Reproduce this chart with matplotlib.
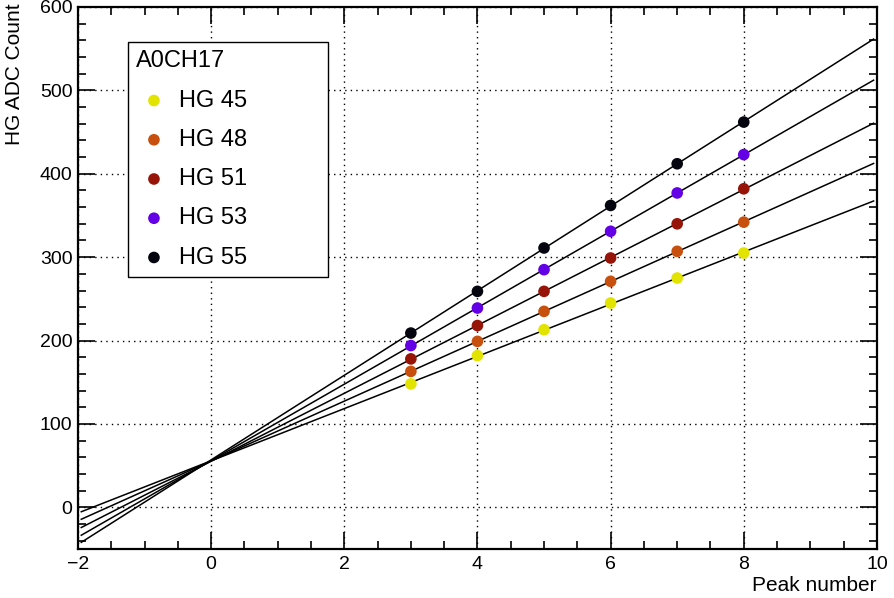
import numpy as np
import matplotlib
matplotlib.use("Agg")
import matplotlib.pyplot as plt
from matplotlib.ticker import MultipleLocator

plt.rcParams['font.family'] = ['Liberation Sans', 'DejaVu Sans']

peaks = [3, 4, 5, 6, 7, 8]
labels = ["HG 45", "HG 48", "HG 51", "HG 53", "HG 55"]
hg45 = [148, 182, 213, 245, 275, 305]
hg48 = [163, 199, 235, 271, 307, 342]
hg51 = [178, 218, 259, 299, 340, 382]
hg53 = [194, 239, 285, 331, 377, 423]
hg55 = [209, 259, 311, 362, 412, 462]
series = [hg45, hg48, hg51, hg53, hg55]
colors = ["#e3e300", "#c8500f", "#961408", "#6400e6", "#05050f"]
title = "A0CH17"

fig = plt.figure(figsize=(8.94, 5.98), dpi=100)
ax = fig.add_axes([0.0872, 0.0819, 0.8937, 0.9064])
ax.set_xlim(-2, 10)
ax.set_ylim(-50, 600)

xfit = np.linspace(-1.95, 9.95, 200)
handles = []
for vals, c, lab in zip(series, colors, labels):
    p = np.polyfit(peaks, vals, 1)
    ax.plot(xfit, np.polyval(p, xfit), color='black', lw=1.1, zorder=3)
for vals, c, lab in zip(series, colors, labels):
    h = ax.scatter(peaks, vals, s=70, color=c, zorder=4, label=lab, edgecolors='none')
    handles.append(h)

ax.xaxis.set_major_locator(MultipleLocator(2))
ax.xaxis.set_minor_locator(MultipleLocator(0.5))
ax.yaxis.set_major_locator(MultipleLocator(100))
ax.yaxis.set_minor_locator(MultipleLocator(20))
ax.tick_params(which='both', direction='in', top=True, right=True, labelsize=14, width=1.2)
ax.tick_params(which='major', length=12)
ax.tick_params(which='minor', length=6)
ax.tick_params(axis='x', pad=5)
ax.tick_params(axis='y', pad=4)
ax.grid(True, which='major', linestyle=(0, (1, 3)), color='black', lw=1.0, zorder=1)
for s in ax.spines.values():
    s.set_linewidth(1.6)

ax.set_xticklabels([f"\u2212{abs(int(t))}" if t < 0 else f"{int(t)}" for t in ax.get_xticks()])

ax.set_xlabel("Peak number", fontsize=15, loc='right', labelpad=2)
ax.set_ylabel("HG ADC Count", fontsize=15, loc='top')
ax.yaxis.set_label_coords(-0.067, 1.006)

leg = ax.legend(handles=handles, labels=labels, title=title, loc='upper left',
                bbox_to_anchor=(0.0626, 0.935, 0.2503, 0.0), mode='expand',
                fontsize=17, title_fontsize=17, frameon=True, fancybox=False,
                edgecolor='black', framealpha=1, labelspacing=0.73,
                handletextpad=0.32, borderpad=0.35, alignment='left',
                markerscale=1.0, handlelength=1.5, borderaxespad=0)
leg.get_frame().set_linewidth(1.0)
leg.set_zorder(10)

fig.savefig("out.png", dpi=100)
